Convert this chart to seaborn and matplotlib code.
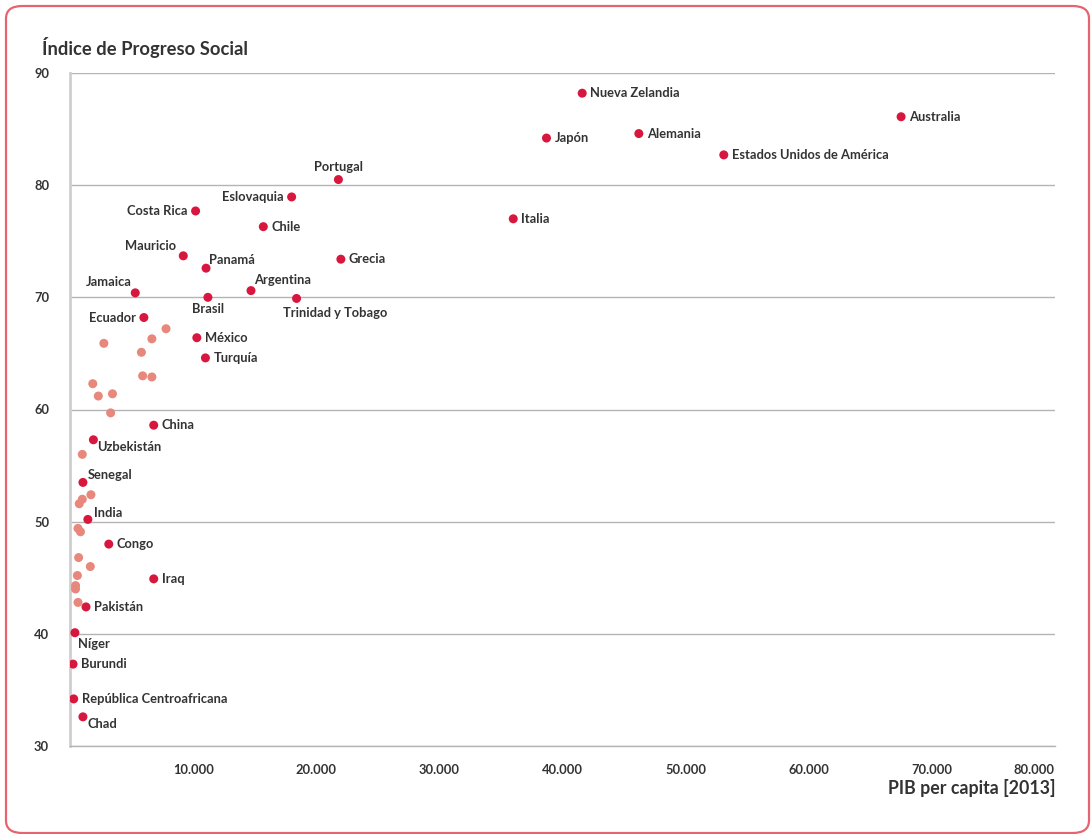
import numpy as np
import pandas as pd
import matplotlib.pyplot as plt
import seaborn as sns
from matplotlib.patches import FancyBboxPatch

# Data: PIB per capita 2013 vs Índice de Progreso Social
countries = ["Nueva Zelandia", "Australia", "Japón", "Alemania", "Estados Unidos de América",
             "Portugal", "Eslovaquia", "Costa Rica", "Chile", "Italia", "Mauricio", "Panamá",
             "Grecia", "Jamaica", "Argentina", "Brasil", "Trinidad y Tobago", "Ecuador",
             "México", "Turquía", "China", "Uzbekistán", "Senegal", "India", "Congo", "Iraq",
             "Pakistán", "Níger", "Burundi", "República Centroafricana", "Chad"]
gdp = [41600, 67500, 38700, 46200, 53100,
       21800, 18000, 10200, 15700, 36000, 9200, 11050,
       22000, 5300, 14700, 11200, 18400, 6000,
       10300, 11000, 6800, 1900, 1050, 1450, 3150, 6800,
       1300, 400, 250, 300, 1050]
ips = [88.2, 86.1, 84.2, 84.6, 82.7,
       80.5, 78.95, 77.7, 76.3, 77.0, 73.7, 72.6,
       73.4, 70.4, 70.6, 70.0, 69.9, 68.2,
       66.4, 64.6, 58.6, 57.3, 53.5, 50.2, 48.0, 44.9,
       42.4, 40.1, 37.3, 34.2, 32.6]

# unlabeled countries
other_gdp = [7800, 2750, 6650, 5800, 5900, 6650, 1850, 2300, 3450, 3300, 1000,
             1700, 1000, 750, 650, 850, 700, 1650, 600, 450, 450, 650]
other_ips = [67.2, 65.9, 66.3, 65.1, 63.0, 62.9, 62.3, 61.2, 61.4, 59.7, 56.0,
             52.4, 52.0, 51.6, 49.4, 49.1, 46.8, 46.0, 45.2, 44.3, 44.0, 42.8]

x_ticks = [10000, 20000, 30000, 40000, 50000, 60000, 70000, 80000]
y_ticks = [30, 40, 50, 60, 70, 80, 90]

# label placement (pixel offset, alignment)
right = ((8, 0), "left", "center")
place = {c: right for c in countries}
place.update({
    "Eslovaquia": ((-8, 0), "right", "center"),
    "Costa Rica": ((-8, 0), "right", "center"),
    "Ecuador": ((-8, 0), "right", "center"),
    "Portugal": ((0, 13), "center", "center"),
    "Mauricio": ((-7, 10), "right", "center"),
    "Jamaica": ((-4, 11), "right", "center"),
    "Panamá": ((3, 8), "left", "center"),
    "Argentina": ((3, 11), "left", "center"),
    "Senegal": ((5, 7), "left", "center"),
    "India": ((6, 6), "left", "center"),
    "Brasil": ((0, -12), "center", "center"),
    "Trinidad y Tobago": ((-14, -15), "left", "center"),
    "Uzbekistán": ((4, -7), "left", "center"),
    "Níger": ((3, -11), "left", "center"),
    "Chad": ((5, -7), "left", "center"),
})

red = "#d8173f"
light = "#e8877c"
txt = "#333333"

df = pd.DataFrame({
    "gdp": gdp + other_gdp,
    "ips": ips + other_ips,
    "grupo": ["etiquetado"] * len(gdp) + ["otro"] * len(other_gdp),
})

sns.set_style("white")
plt.rcParams["font.family"] = ["Lato", "DejaVu Sans"]

fig = plt.figure(figsize=(10.92, 8.34), dpi=100)
ax = fig.add_axes([70 / 1092, 1 - 746 / 834, (1055 - 70) / 1092, (746 - 73) / 834])

# rounded border around the whole chart
fig.patches.append(FancyBboxPatch((6 / 1092, 1 / 834), 1083 / 1092, 827 / 834,
                                  boxstyle="round,pad=0,rounding_size=0.015",
                                  transform=fig.transFigure, fill=False,
                                  edgecolor="#e56470", linewidth=1.6))

sns.scatterplot(data=df, x="gdp", y="ips", hue="grupo", hue_order=["otro", "etiquetado"],
                palette={"otro": light, "etiquetado": red}, s=42, linewidth=0,
                legend=False, ax=ax, zorder=3)

for c, xv, yv in zip(countries, gdp, ips):
    off, ha, va = place[c]
    ax.annotate(c, (xv, yv), xytext=off, textcoords="offset pixels", ha=ha, va=va,
                fontsize=9.3, fontweight="bold", color=txt, zorder=4)

ax.set_xlim(0, 80000)
ax.set_ylim(30, 90)
ax.set_yticks(y_ticks)
ax.set_xticks(x_ticks)
ax.set_xticklabels([f"{v:,}".replace(",", ".") for v in x_ticks])
ax.set_yticklabels([str(v) for v in y_ticks])
ax.get_xticklabels()[-1].set_ha("right")

ax.grid(axis="y", color="#b4b4b4", linewidth=1)
ax.grid(axis="x", visible=False)
for s in ["top", "right"]:
    ax.spines[s].set_visible(False)
ax.spines["bottom"].set_color("#b4b4b4")
ax.spines["bottom"].set_linewidth(1)
ax.spines["left"].set_color("#cfcfcf")
ax.spines["left"].set_linewidth(2)
ax.tick_params(axis="y", length=7, width=1, color="#b4b4b4", pad=8, labelsize=9.3,
               labelcolor=txt)
ax.tick_params(axis="x", length=6, width=1, color="#b4b4b4", pad=7, labelsize=9.3,
               labelcolor=txt, direction="out")
for lab in ax.get_xticklabels() + ax.get_yticklabels():
    lab.set_fontweight("bold")

ax.set_xlabel("")
ax.set_ylabel("")
fig.text(42 / 1092, 1 - 47 / 834, "Índice de Progreso Social", fontsize=13.2,
         fontweight="bold", color=txt, ha="left", va="center")
fig.text(1056 / 1092, 1 - 788 / 834, "PIB per capita [2013]", fontsize=12.8,
         fontweight="bold", color=txt, ha="right", va="center")

fig.savefig("out.png", dpi=100)
